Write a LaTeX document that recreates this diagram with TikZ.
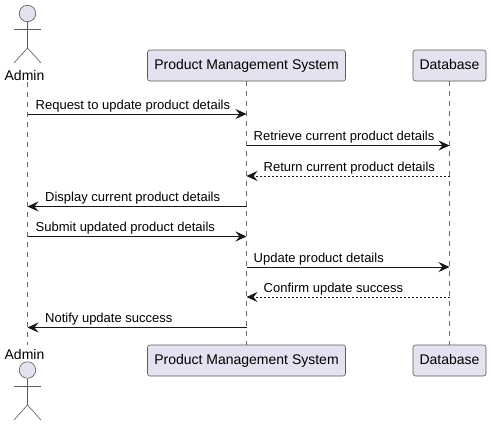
\documentclass[tikz,border=0pt]{standalone}
\usepackage{fontspec}
\setmainfont{Liberation Sans}
\usepackage{xcolor}
\usetikzlibrary{arrows.meta, positioning}
\definecolor{partfill}{HTML}{E2E2F0}
\definecolor{partline}{HTML}{5A5A5A}
\definecolor{lifecol}{HTML}{6A6A6A}
\definecolor{msgcol}{HTML}{181818}

\begin{document}
\begin{tikzpicture}[
  x=1pt, y=-1pt,
  every node/.style={font=\fontsize{13}{15}\selectfont, text=black},
  part/.style={draw=partline, fill=partfill, rounded corners=2.5pt, line width=0.6pt, minimum height=31pt, inner sep=0pt, anchor=center, font=\fontsize{14}{16}\selectfont, text height=10pt, text depth=3pt},
  actorname/.style={inner sep=0pt, anchor=base, font=\fontsize{14}{16}\selectfont},
  figure/.style={draw=partline, line width=0.6pt},
  life/.style={draw=lifecol, line width=0.5pt, dash pattern=on 5pt off 5pt},
  msg/.style={draw=msgcol, line width=0.75pt, -{Stealth[length=11pt, width=10pt, inset=4pt]}},
  reply/.style={msg, dash pattern=on 2pt off 2pt},
  msglabel/.style={inner sep=0pt, yshift=5pt}
]
\useasboundingbox (0,0) rectangle (492,426);

% LIFELINE ENDS
\coordinate (admintop) at (27.5,82);
\coordinate (adminbot) at (27.5,345);

% PARTICIPANTS
\node[part, minimum width=198pt] (pms) at (246.5,65.5) {Product Management System};
\node[part, minimum width=73pt] (db) at (449.5,65.5) {Database};
\node[part, minimum width=198pt] (pmsbot) at (246.5,360.5) {Product Management System};
\node[part, minimum width=73pt] (dbbot) at (449.5,360.5) {Database};
\node[actorname] (admin) at (24.5,80) {Admin};
\node[actorname] (adminlow) at (24.5,359) {Admin};

% LIFELINES
\draw[life] (admintop) -- (adminbot);
\draw[life] (pms.south) -- (pmsbot.north);
\draw[life] (db.south) -- (dbbot.north);

% ACTORS
\node[circle, figure, fill=partfill, minimum size=16.5pt, inner sep=0pt] (headtop) at (27.5,13.5) {};
\draw[figure] (headtop.south) -- (27.5,48);
\draw[figure] (14,29) -- (41,29);
\draw[figure] (14,63) -- (27.5,48) -- (41,63);
\node[circle, figure, fill=partfill, minimum size=16.5pt, inner sep=0pt] (headbot) at (27.5,370) {};
\draw[figure] (headbot.south) -- (27.5,405);
\draw[figure] (14,386) -- (41,386);
\draw[figure] (14,420) -- (27.5,405) -- (41,420);

% MESSAGE ROWS
\foreach \name/\xpos in {a/27.5, p/246.5, d/449.5}
  \foreach \row/\ypos in {1/114, 2/145.5, 3/176, 4/206.5, 5/236.5, 6/267, 7/297, 8/327.5}
    \coordinate (\name\row) at (\xpos,\ypos);

% MESSAGES
\draw[msg] (a1) -- (p1);
\node[msglabel, right=8pt of a1, anchor=base west] (m1) {Request to update product details};
\draw[msg] (p2) -- (d2);
\node[msglabel, right=7pt of p2, anchor=base west] (m2) {Retrieve current product details};
\draw[reply] (d3) -- (p3);
\node[msglabel, right=17pt of p3, anchor=base west] (m3) {Return current product details};
\draw[msg] (p4) -- (a4);
\node[msglabel, right=17.5pt of a4, anchor=base west] (m4) {Display current product details};
\draw[msg] (a5) -- (p5);
\node[msglabel, right=8pt of a5, anchor=base west] (m5) {Submit updated product details};
\draw[msg] (p6) -- (d6);
\node[msglabel, right=7pt of p6, anchor=base west] (m6) {Update product details};
\draw[reply] (d7) -- (p7);
\node[msglabel, right=17pt of p7, anchor=base west] (m7) {Confirm update success};
\draw[msg] (p8) -- (a8);
\node[msglabel, right=17.5pt of a8, anchor=base west] (m8) {Notify update success};

\end{tikzpicture}
\end{document}
